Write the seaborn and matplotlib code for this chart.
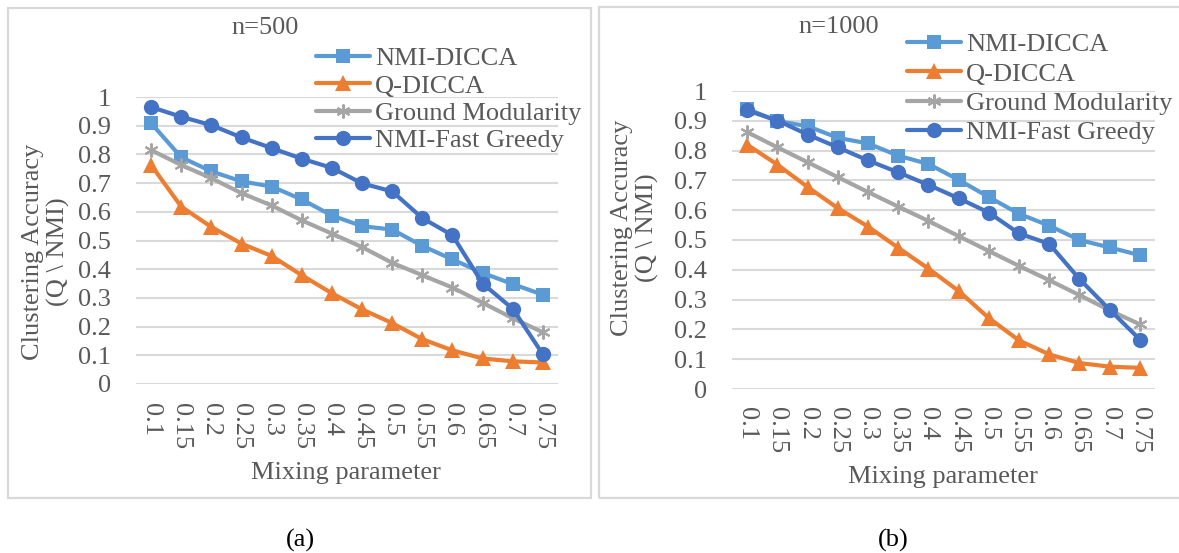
import numpy as np
import pandas as pd
import seaborn as sns
from matplotlib import pyplot as plt
from matplotlib.patches import Rectangle

sns.set_theme(style="white")
plt.rcParams["font.family"] = ["Liberation Serif", "DejaVu Serif"]

mixing = [0.1, 0.15, 0.2, 0.25, 0.3, 0.35, 0.4, 0.45, 0.5, 0.55, 0.6, 0.65, 0.7, 0.75]
mix_labels = ["0.1", "0.15", "0.2", "0.25", "0.3", "0.35", "0.4", "0.45", "0.5",
              "0.55", "0.6", "0.65", "0.7", "0.75"]
series_names = ["NMI-DICCA", "Q-DICCA", "Ground Modularity", "NMI-Fast Greedy"]

# n=500
nmi_dicca_500 = [0.909, 0.790, 0.741, 0.706, 0.688, 0.643, 0.587, 0.550, 0.538, 0.481, 0.434, 0.387, 0.348, 0.311]
q_dicca_500 = [0.763, 0.618, 0.547, 0.489, 0.446, 0.379, 0.316, 0.260, 0.212, 0.156, 0.117, 0.089, 0.079, 0.075]
ground_500 = [0.815, 0.763, 0.717, 0.665, 0.622, 0.570, 0.524, 0.477, 0.422, 0.379, 0.336, 0.283, 0.229, 0.180]
fast_greedy_500 = [0.965, 0.931, 0.902, 0.859, 0.822, 0.785, 0.753, 0.699, 0.671, 0.578, 0.518, 0.350, 0.262, 0.103]

# n=1000
nmi_dicca_1000 = [0.940, 0.899, 0.882, 0.843, 0.824, 0.783, 0.755, 0.702, 0.644, 0.588, 0.548, 0.500, 0.475, 0.449]
q_dicca_1000 = [0.820, 0.753, 0.678, 0.607, 0.545, 0.474, 0.404, 0.329, 0.238, 0.163, 0.116, 0.087, 0.075, 0.071]
ground_1000 = [0.862, 0.811, 0.761, 0.711, 0.661, 0.612, 0.564, 0.513, 0.463, 0.413, 0.365, 0.315, 0.264, 0.217]
fast_greedy_1000 = [0.935, 0.901, 0.854, 0.811, 0.767, 0.727, 0.685, 0.640, 0.592, 0.522, 0.487, 0.369, 0.266, 0.166]

COLORS = {"NMI-DICCA": "#5B9BD5", "Q-DICCA": "#ED7D31",
          "Ground Modularity": "#A5A5A5", "NMI-Fast Greedy": "#4472C4"}
MARKERS = {"NMI-DICCA": "s", "Q-DICCA": "^",
           "Ground Modularity": (6, 2, 0), "NMI-Fast Greedy": "o"}
MSIZE = {"NMI-DICCA": 10.5, "Q-DICCA": 11, "Ground Modularity": 10, "NMI-Fast Greedy": 11}
TXT = "#595959"
GRID = "#D9D9D9"
FS = 19

W, H = 1179, 553
fig = plt.figure(figsize=(W / 100, H / 100), dpi=100)


def px_axes(x0, y_top, x1, y_bot):
    return fig.add_axes([x0 / W, 1 - y_bot / H, (x1 - x0) / W, (y_bot - y_top) / H])


def draw_panel(ax, data, title, box, title_xy, leg_xy, leg_sp, ylab_xy, xlab_xy, caption, cap_xy, xpad):
    bx0, by0, bx1, by1 = box
    fig.patches.append(Rectangle((bx0 / W, 1 - by1 / H), (bx1 - bx0) / W, (by1 - by0) / H,
                                 transform=fig.transFigure, fill=False,
                                 edgecolor=GRID, linewidth=1.6))
    df = pd.DataFrame({"mix": mixing})
    for name, vals in zip(series_names, data):
        df[name] = vals
        sns.lineplot(data=df, x="mix", y=name, ax=ax, color=COLORS[name], label=name,
                     marker=MARKERS[name], markersize=MSIZE[name], linewidth=3,
                     markeredgewidth=1.5 if name == "Ground Modularity" else 0,
                     markeredgecolor=COLORS[name])
    ax.set_xlim(0.075, 0.775)
    ax.set_ylim(0, 1)
    ax.set_yticks(np.arange(0, 1.01, 0.1), ["0"] + [f"{v:.1f}" for v in np.arange(0.1, 0.95, 0.1)] + ["1"])
    ax.set_xticks(mixing, mix_labels)
    ax.grid(axis="y", color=GRID, linewidth=1.5)
    ax.set_axisbelow(True)
    for s in ax.spines.values():
        s.set_visible(False)
    ax.tick_params(axis="y", length=0, pad=18, labelsize=FS, labelcolor=TXT)
    ax.tick_params(axis="x", length=0, pad=xpad, labelsize=FS, labelcolor=TXT, labelrotation=-90)
    ax.set_xlabel("")
    ax.set_ylabel("")
    fig.text(title_xy[0] / W, 1 - title_xy[1] / H, title, ha="center", va="center",
             fontsize=FS, color=TXT)
    fig.text(ylab_xy[0] / W, 1 - ylab_xy[1] / H, "Clustering Accuracy\n(Q \\ NMI)",
             rotation=90, ha="center", va="center", multialignment="center",
             fontsize=FS, color=TXT, linespacing=1.22)
    fig.text(xlab_xy[0] / W, 1 - xlab_xy[1] / H, "Mixing parameter", ha="center",
             va="center", fontsize=FS, color=TXT)
    fig.text(cap_xy[0] / W, 1 - cap_xy[1] / H, caption, ha="center", va="center",
             fontsize=FS, color="black")
    leg = ax.legend(loc="upper left", bbox_to_anchor=(leg_xy[0] / W, 1 - leg_xy[1] / H),
                    bbox_transform=fig.transFigure, frameon=False, fontsize=FS,
                    handlelength=2.05, handletextpad=0.18, labelspacing=leg_sp,
                    borderpad=0, borderaxespad=0)
    for t in leg.get_texts():
        t.set_color(TXT)


ax1 = px_axes(136, 97, 558, 384)
draw_panel(ax1, [nmi_dicca_500, q_dicca_500, ground_500, fast_greedy_500], "n=500",
           (8, 8, 591, 498), (265, 28), (316, 47), 0.14, (46, 252), (346, 473), "(a)", (300, 540), 14)

ax2 = px_axes(732, 91, 1155, 389)
draw_panel(ax2, [nmi_dicca_1000, q_dicca_1000, ground_1000, fast_greedy_1000], "n=1000",
           (599, 7, 1185, 498), (839, 27), (907, 33), 0.215, (635, 228), (943, 477), "(b)", (893, 540), 13)

fig.savefig("out.png", dpi=100)
